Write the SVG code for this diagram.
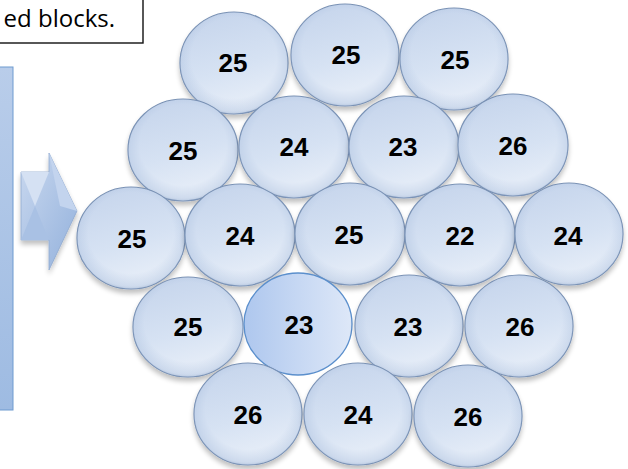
<svg xmlns="http://www.w3.org/2000/svg" width="628" height="469" viewBox="0 0 628 469">
<style>
.b{fill:url(#g);stroke:#7890b3;stroke-width:1.2;filter:url(#sh)}
.o{fill:url(#e);stroke:none;pointer-events:none}
.t{font-family:"Liberation Sans",Arial,sans-serif;font-weight:bold;font-size:26px;fill:#000;text-anchor:middle}
</style>
<defs>
<linearGradient id="g" x1="0.3" y1="0" x2="0.6" y2="1">
<stop offset="0" stop-color="#c6d5ec"/>
<stop offset="0.55" stop-color="#d6e2f3"/>
<stop offset="1" stop-color="#eaf0f9"/>
</linearGradient>
<radialGradient id="e" cx="0.5" cy="0.45" r="0.55">
<stop offset="0.72" stop-color="#9fb6d8" stop-opacity="0"/>
<stop offset="0.95" stop-color="#9fb6d8" stop-opacity="0.35"/>
<stop offset="1" stop-color="#8aa3c8" stop-opacity="0.5"/>
</radialGradient>
<linearGradient id="g2" x1="0" y1="0" x2="1" y2="0">
<stop offset="0" stop-color="#aec7ee"/>
<stop offset="1" stop-color="#dee8f8"/>
</linearGradient>
<linearGradient id="lb" x1="0" y1="0" x2="0" y2="1">
<stop offset="0" stop-color="#b9cdea"/>
<stop offset="1" stop-color="#9ebbe2"/>
</linearGradient>
<linearGradient id="ar" x1="0" y1="0" x2="1" y2="1">
<stop offset="0" stop-color="#c9d8ef"/>
<stop offset="1" stop-color="#93b1dc"/>
</linearGradient>
<filter id="sh" x="-20%" y="-20%" width="140%" height="150%">
<feGaussianBlur in="SourceAlpha" stdDeviation="2.5"/>
<feOffset dy="4"/>
<feComponentTransfer><feFuncA type="linear" slope="0.25"/></feComponentTransfer>
<feMerge><feMergeNode/><feMergeNode in="SourceGraphic"/></feMerge>
</filter>
</defs>
<rect x="0" y="0" width="628" height="469" fill="#fff"/>
<g id="note">
<rect x="-2" y="-2" width="145" height="45" fill="#fff" stroke="#111" stroke-width="1.4"/>
<text x="115" y="27" font-family="'Open Sans','Liberation Sans',sans-serif" font-size="24" text-anchor="end">ed blocks.</text>
</g>
<g id="panel">
<rect x="-2" y="67" width="15" height="343" fill="url(#lb)" stroke="#6f9bd0" stroke-width="1"/>
</g>
<g id="arrow" filter="url(#sh)">
<polygon points="21,172 49,172 49,153 77,211 49,270 49,240 21,240" fill="url(#ar)" stroke="#8fa9cf" stroke-width="0.8"/>
<polygon points="21,172 49,172 35,206" fill="#d5e1f3"/>
<polygon points="21,240 49,240 35,206" fill="#a9c1e4"/>
<polygon points="49,153 77,211 60,206" fill="#c3d4ee"/>
</g>
<g id="r1">
<g id="n1"><ellipse class="b" cx="234" cy="63" rx="54" ry="51"/><ellipse class="o" cx="234" cy="63" rx="54" ry="51"/><text class="t" x="233" y="72">25</text></g>
<g id="n2"><ellipse class="b" cx="345" cy="55" rx="54" ry="51"/><ellipse class="o" cx="345" cy="55" rx="54" ry="51"/><text class="t" x="346" y="64">25</text></g>
<g id="n3"><ellipse class="b" cx="454" cy="59" rx="54" ry="51"/><ellipse class="o" cx="454" cy="59" rx="54" ry="51"/><text class="t" x="455" y="69">25</text></g>
</g>
<g id="r2">
<g id="n4"><ellipse class="b" cx="183" cy="150" rx="55" ry="51"/><ellipse class="o" cx="183" cy="150" rx="55" ry="51"/><text class="t" x="183" y="160">25</text></g>
<g id="n5"><ellipse class="b" cx="294" cy="147" rx="55" ry="51"/><ellipse class="o" cx="294" cy="147" rx="55" ry="51"/><text class="t" x="294" y="156">24</text></g>
<g id="n6"><ellipse class="b" cx="404" cy="147" rx="55" ry="51"/><ellipse class="o" cx="404" cy="147" rx="55" ry="51"/><text class="t" x="403" y="156">23</text></g>
<g id="n7"><ellipse class="b" cx="513" cy="145" rx="55" ry="51"/><ellipse class="o" cx="513" cy="145" rx="55" ry="51"/><text class="t" x="513" y="155">26</text></g>
</g>
<g id="r3">
<g id="n8"><ellipse class="b" cx="131" cy="238" rx="54" ry="51"/><ellipse class="o" cx="131" cy="238" rx="54" ry="51"/><text class="t" x="132" y="248">25</text></g>
<g id="n9"><ellipse class="b" cx="240" cy="235" rx="55" ry="51"/><ellipse class="o" cx="240" cy="235" rx="55" ry="51"/><text class="t" x="240" y="245">24</text></g>
<g id="n10"><ellipse class="b" cx="350" cy="234" rx="55" ry="51"/><ellipse class="o" cx="350" cy="234" rx="55" ry="51"/><text class="t" x="349" y="244">25</text></g>
<g id="n11"><ellipse class="b" cx="460" cy="235" rx="55" ry="51"/><ellipse class="o" cx="460" cy="235" rx="55" ry="51"/><text class="t" x="460" y="245">22</text></g>
<g id="n12"><ellipse class="b" cx="569" cy="234" rx="54" ry="51"/><ellipse class="o" cx="569" cy="234" rx="54" ry="51"/><text class="t" x="568" y="245">24</text></g>
</g>
<g id="r4">
<g id="n13"><ellipse class="b" cx="188" cy="327" rx="55" ry="50"/><ellipse class="o" cx="188" cy="327" rx="55" ry="50"/><text class="t" x="188" y="336">25</text></g>
<g id="n14"><ellipse cx="298" cy="324" rx="54" ry="51" fill="url(#g2)" stroke="#5b8fcc" stroke-width="1.3"/><text class="t" x="299" y="334">23</text></g>
<g id="n15"><ellipse class="b" cx="409" cy="326" rx="54" ry="51"/><ellipse class="o" cx="409" cy="326" rx="54" ry="51"/><text class="t" x="408" y="336">23</text></g>
<g id="n16"><ellipse class="b" cx="519" cy="326" rx="54" ry="51"/><ellipse class="o" cx="519" cy="326" rx="54" ry="51"/><text class="t" x="520" y="336">26</text></g>
</g>
<g id="r5">
<g id="n17"><ellipse class="b" cx="248" cy="414" rx="54" ry="51"/><ellipse class="o" cx="248" cy="414" rx="54" ry="51"/><text class="t" x="248" y="424">26</text></g>
<g id="n18"><ellipse class="b" cx="358" cy="414" rx="54" ry="51"/><ellipse class="o" cx="358" cy="414" rx="54" ry="51"/><text class="t" x="358" y="424">24</text></g>
<g id="n19"><ellipse class="b" cx="468" cy="416" rx="54" ry="51"/><ellipse class="o" cx="468" cy="416" rx="54" ry="51"/><text class="t" x="468" y="426">26</text></g>
</g>
</svg>
